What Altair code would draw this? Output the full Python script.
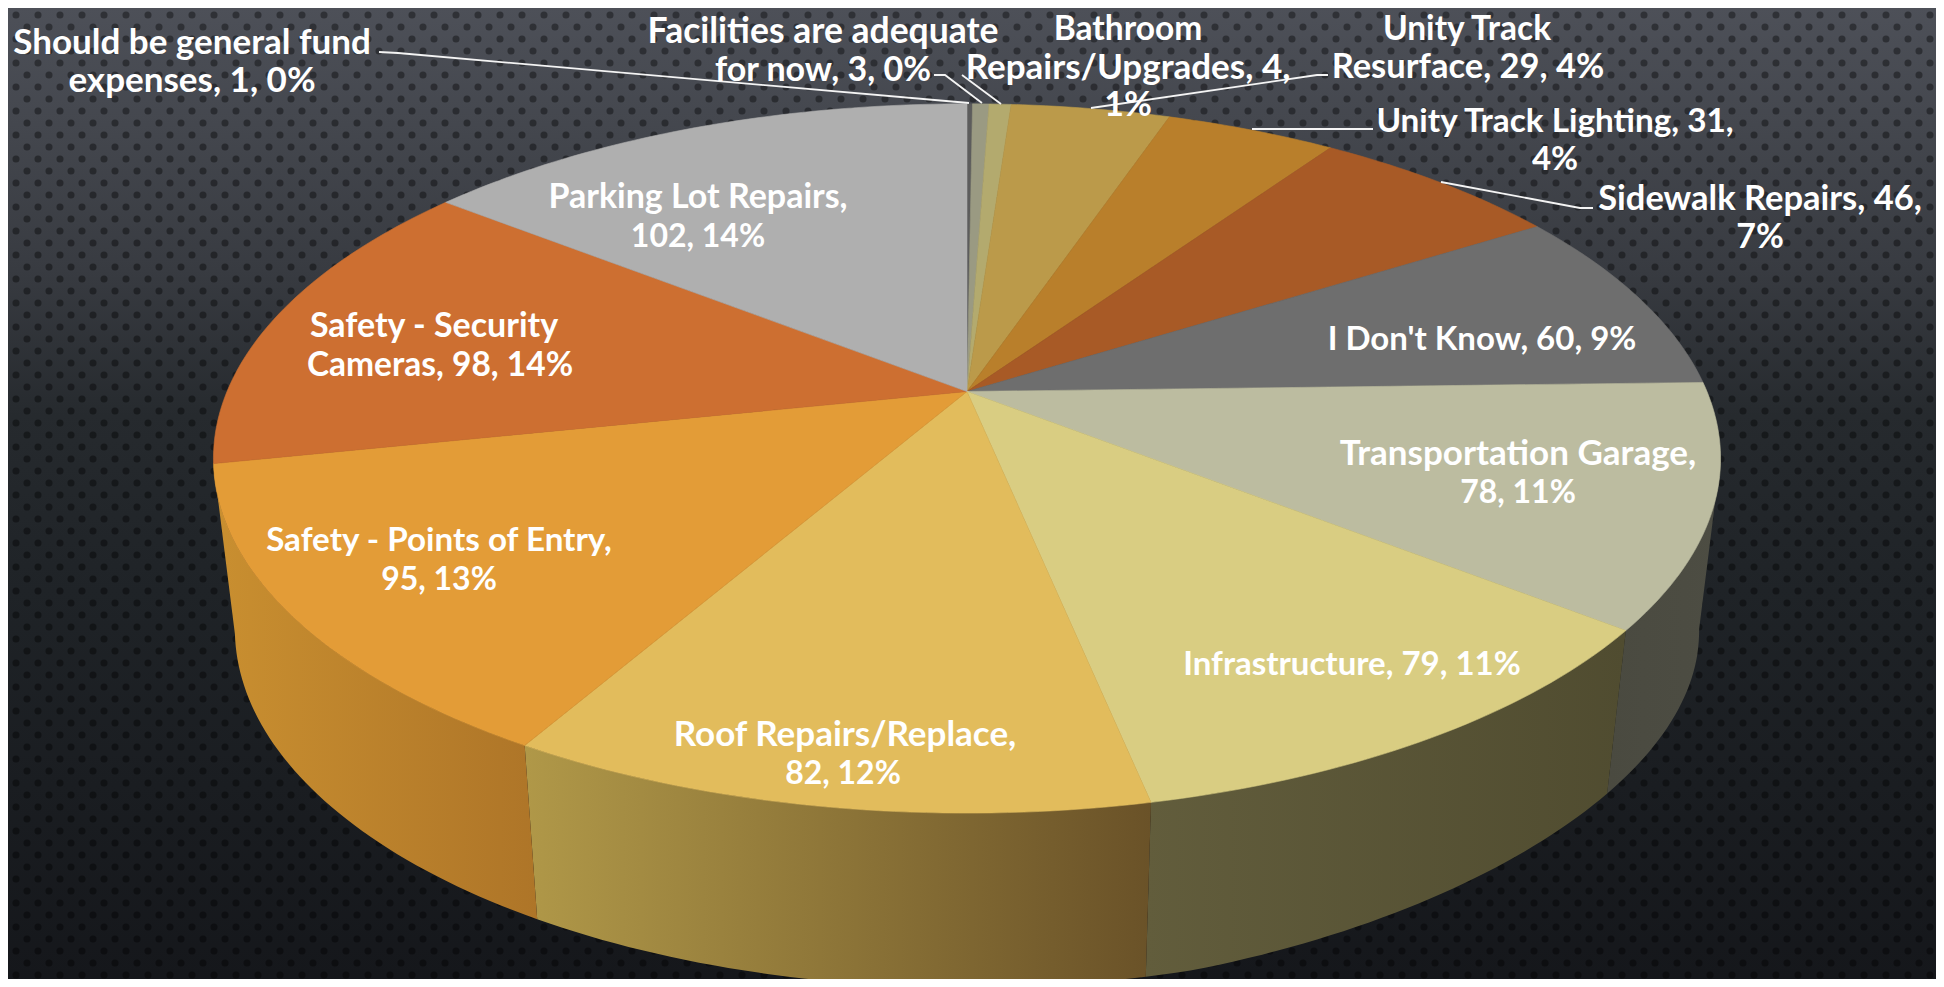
import math
import numpy as np
import altair as alt

# ---- chart values, clockwise from twelve o'clock
CATEGORIES = ["Should be general fund expenses", "Facilities are adequate for now",
              "Bathroom Repairs/Upgrades", "Unity Track Resurface", "Unity Track Lighting",
              "Sidewalk Repairs", "I Don't Know", "Transportation Garage", "Infrastructure",
              "Roof Repairs/Replace", "Safety - Points of Entry", "Safety - Security Cameras",
              "Parking Lot Repairs"]
VALUES = [1, 3, 4, 29, 31, 46, 60, 78, 79, 82, 95, 98, 102]
TOP_COLORS = ["#5c5c5c", "#9a9a82", "#b3aa6e", "#bb9a4a", "#b97f2b", "#a85a26", "#6e6e6e",
              "#bcbca0", "#d9cd82", "#e2bc5c", "#e39c37", "#cd6f31", "#afafaf"]
WALLS = {"Transportation Garage": ("#4a4a40", "#4d4d43"),
         "Infrastructure": ("#625d3c", "#504c30"),
         "Roof Repairs/Replace": ("#b09848", "#6a5228"),
         "Safety - Points of Entry": ("#c98f30", "#ae7528")}

# one row per printed line: text, centre x, centre y (page pixels), font size
LABEL_TEXT = ["Should be general fund", "expenses, 1, 0%",
              "Facilities are adequate", "for now, 3, 0%",
              "Bathroom", "Repairs/Upgrades, 4,", "1%",
              "Unity Track", "Resurface, 29, 4%",
              "Unity Track Lighting, 31,", "4%",
              "Sidewalk Repairs, 46,", "7%",
              "I Don't Know, 60, 9%",
              "Transportation Garage,", "78, 11%",
              "Infrastructure, 79, 11%",
              "Roof Repairs/Replace,", "82, 12%",
              "Safety - Points of Entry,", "95, 13%",
              "Safety - Security", "Cameras, 98, 14%",
              "Parking Lot Repairs,", "102, 14%"]
LABEL_X = [192, 192, 823, 823, 1128, 1128, 1128, 1467, 1468, 1555, 1555, 1760, 1760,
           1482, 1518, 1518, 1352, 845, 843, 439, 439, 434, 440, 698, 698]
LABEL_Y = [43, 81, 32, 71, 30, 68, 106, 30, 68, 122, 160, 200, 238, 340, 454, 493, 665,
           735, 774, 541, 580, 327, 366, 198, 237]
LABEL_SIZE = [35, 35, 35.5, 34, 33.5, 35, 34, 33.5, 34.5, 33.3, 33, 34.5, 34, 33, 35, 32,
              33, 35, 32, 33.2, 32, 34, 33.5, 34, 32]

LEADER_ID = [1, 1, 1, 2, 2, 2, 3, 3, 4, 4, 4, 5, 5, 6, 6, 6]
LEADER_X = [379, 398, 969, 934, 945, 982, 962, 1001, 1328, 1317, 1091, 1373, 1252, 1593, 1580, 1441]
LEADER_Y = [52, 53, 103, 75, 75, 103, 75, 104, 75, 75, 108, 129, 129, 208, 208, 182]

# ---- page and projection of the pie
W, H = 1928, 971
CX, CY, AX, BY, K = 967.0, 391.5, 740.0, 342.0, 0.1888
CY2, AX2, BY2 = 561.0, 719.0, 346.0
TANGENT = math.acos(-K)  # where the right-hand outline of the pie leaves the rim


def rim(theta, lower=False):
    u, w = math.sin(theta), -math.cos(theta)
    d = 1 - K * w
    if lower:
        deg = math.degrees(theta)
        dent = 10 * math.sin(math.radians(3 * (deg - 105))) if 105 < deg < 165 else 0
        return [CX + AX2 * u / d, CY2 + BY2 * w / d - dent]
    return [CX + AX * u / d, CY + BY * w / d]


def arc(a, b, lower=False):
    n = max(2, int(abs(b - a) / math.radians(1)) + 1)
    return [rim(t, lower) for t in np.linspace(a, b, n)]


def feature(ring, name):
    ring = ring + [ring[0]]
    return {"type": "Feature", "properties": {"name": name},
            "geometry": {"type": "Polygon", "coordinates": [ring]}}


total = sum(VALUES)
edges = [0.0]
for v in VALUES:
    edges.append(edges[-1] + v / total * 2 * math.pi)

tops, walls = [], []
for i, name in enumerate(CATEGORIES):
    a, b = edges[i], edges[i + 1]
    tops.append(feature([[CX, CY]] + arc(a, b), name))
    if name in WALLS:
        a2 = max(a, TANGENT)
        walls.append((name, feature(arc(a2, b) + arc(b, a2, True), name)))

PROJ = dict(type="identity", scale=1, translate=[-8, -8])
xs = alt.Scale(domain=[8, 8 + W], range=[0, W])
ys = alt.Scale(domain=[8, 8 + H], range=[0, H])

# background
bg = alt.Chart(alt.Data(values=[{"a": 0}])).mark_rect(
    fill=alt.LinearGradient(gradient="linear", x1=0, x2=0, y1=0, y2=1, stops=[
        alt.GradientStop(color="#4d5058", offset=0),
        alt.GradientStop(color="#44474e", offset=0.12),
        alt.GradientStop(color="#383b41", offset=0.27),
        alt.GradientStop(color="#262a2e", offset=0.42),
        alt.GradientStop(color="#1f2327", offset=0.6),
        alt.GradientStop(color="#15171b", offset=1),
    ])
).encode(x=alt.value(0), x2=alt.value(W), y=alt.value(0), y2=alt.value(H))

dots = []
for r, yy in enumerate(range(15, 980, 12)):
    for xx in range(16 if r % 2 == 0 else 27, 1936, 22):
        dots.append({"x": xx, "y": yy})
dot_layer = alt.Chart(alt.Data(values=dots)).mark_circle(
    size=50, color="#000000", opacity=0.38
).encode(x=alt.X("x:Q", scale=xs, axis=None), y=alt.Y("y:Q", scale=ys, axis=None))

wall_layers = []
for name, f in walls:
    c0, c1 = WALLS[name]
    wall_layers.append(
        alt.Chart(alt.Data(values=[f])).mark_geoshape(
            fill=alt.LinearGradient(gradient="linear", x1=0, x2=1, y1=0, y2=0, stops=[
                alt.GradientStop(color=c0, offset=0), alt.GradientStop(color=c1, offset=1)]),
            strokeOpacity=0,
        ).project(**PROJ)
    )

cscale = alt.Scale(domain=CATEGORIES, range=TOP_COLORS)
top_layer = alt.Chart(alt.Data(values=tops)).mark_geoshape(strokeWidth=0.6).encode(
    fill=alt.Fill("properties.name:N", scale=cscale, legend=None),
    stroke=alt.Stroke("properties.name:N", scale=cscale, legend=None),
).project(**PROJ)

leaders = alt.Chart(alt.Data(values=[
    {"id": i, "x": x, "y": y, "o": n}
    for n, (i, x, y) in enumerate(zip(LEADER_ID, LEADER_X, LEADER_Y))
])).mark_line(color="#f4f4f4", strokeWidth=1.8).encode(
    x=alt.X("x:Q", scale=xs, axis=None), y=alt.Y("y:Q", scale=ys, axis=None),
    detail="id:N", order="o:Q",
)

labels = alt.Chart(alt.Data(values=[
    {"t": t, "x": x, "y": y, "s": s} for t, x, y, s in zip(LABEL_TEXT, LABEL_X, LABEL_Y, LABEL_SIZE)
])).mark_text(
    font="Lato", fontWeight="bold", color="#ffffff", align="center", baseline="middle"
).encode(
    x=alt.X("x:Q", scale=xs, axis=None), y=alt.Y("y:Q", scale=ys, axis=None), text="t:N",
    size=alt.Size("s:Q", scale=None, legend=None),
)

chart = alt.layer(bg, dot_layer, *wall_layers, top_layer, leaders, labels).properties(
    width=W, height=H, padding=0, background="#2a2d32",
).configure_view(stroke=None)

chart.save("out.html", embed_options={"renderer": "svg", "actions": False})
